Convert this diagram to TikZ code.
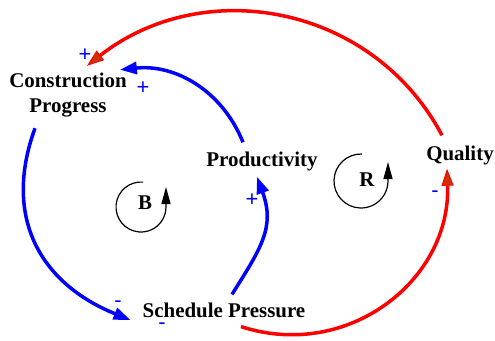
\documentclass[tikz,border=0pt]{standalone}
\usepackage{fontspec}
\setmainfont{Liberation Serif}
\newfontfamily\signfont{Liberation Sans}
\usetikzlibrary{arrows.meta}
\definecolor{tipred}{HTML}{CC3300}
\tikzset{
  var/.style={font=\bfseries\fontsize{21}{25}\selectfont, align=center, inner sep=0pt},
  sgn/.style={blue, font=\signfont\fontsize{22}{22}\selectfont, inner sep=0pt, text height=12bp, text depth=0pt},
  blink/.style={blue, line width=3.5bp, -{Triangle[length=17bp,width=12bp]}},
  rlink/.style={red, line width=3.5bp, -{Triangle[length=17bp,width=12bp,fill=tipred,line width=1bp]}},
  loopsym/.style={black, line width=1.2bp, -{Triangle[length=17bp,width=9bp]}},
}

\begin{document}
\begin{tikzpicture}[x=1bp,y=1bp]
  \useasboundingbox (0,0) rectangle (495,340);
  % 変数
  \node[var] (cp) at (68,245) {Construction\\Progress};
  \node[var] (prod) at (262,179) {Productivity};
  \node[var] (sp) at (224,30) {Schedule Pressure};
  \node[var] (q) at (460,185) {Quality};
  % ループ記号
  \node[var] (B) at (145,137) {B};
  \draw[loopsym] (B) ++(-4,-4) ++(85:25) arc[start angle=85, end angle=360, radius=25] -- ++(0,20);
  \node[var] (R) at (367,160) {R};
  \draw[loopsym] (R) ++(-6,-1) ++(88:27) arc[start angle=88, end angle=360, radius=27] -- ++(0,19);
  % 因果リンク (青)
  \draw[blink] ([shift={(-33,-11)}]cp.south) to[out=-110, in=158, looseness=1.15] ([shift={(-12,-10)}]sp.west);
  \draw[blink] ([shift={(8,8)}]sp.north) to[out=58, in=-70, looseness=1.15] ([shift={(-5,-6)}]prod.south);
  \draw[blink] ([shift={(-19,9)}]prod.north) to[out=112, in=6] ([shift={(-7,3)}]cp.north east);
  % 因果リンク (赤)
  \draw[rlink] ([shift={(-18,10)}]q.north) to[out=118, in=38, looseness=1.05] ([shift={(19,7)}]cp.north);
  \draw[rlink] ([shift={(17,-9)}]sp.south) to[out=-18, in=-88, looseness=1.1] ([shift={(-13,-4)}]q.south);
  % 極性
  \node[sgn] (s1) at (85,285) {+};
  \node[sgn] (s2) at (143,252) {+};
  \node[sgn] (s3) at (252,140) {+};
  \node[sgn] (s4) at (118,39) {-};
  \node[sgn] (s5) at (162,17) {-};
  \node[sgn] (s6) at (435,149) {-};
\end{tikzpicture}
\end{document}
